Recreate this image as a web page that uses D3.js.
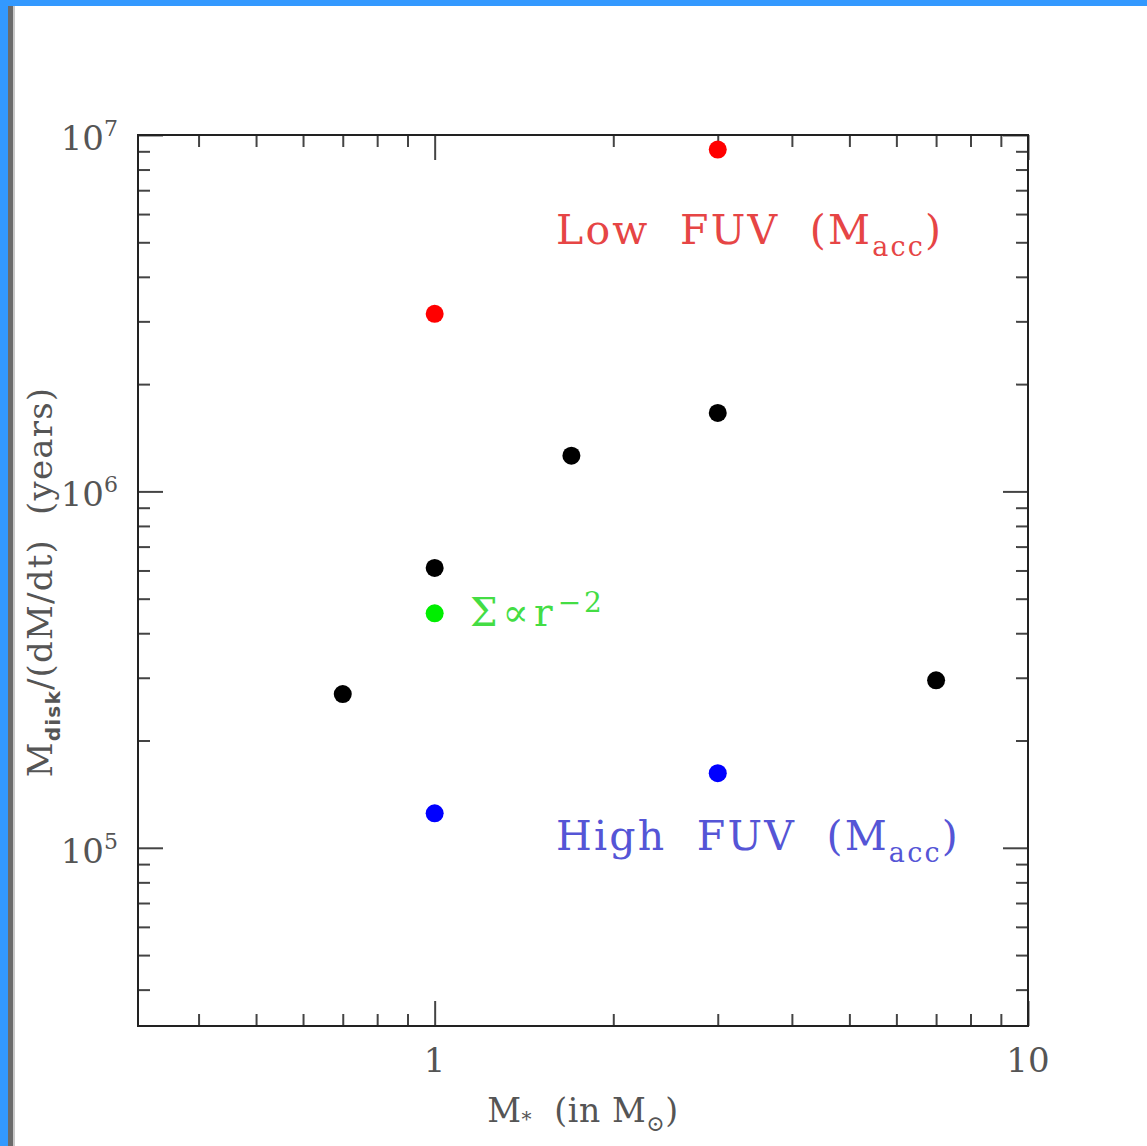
<!DOCTYPE html>
<html>
<head>
<meta charset="utf-8">
<script src="https://cdn.jsdelivr.net/npm/d3@7"></script>
<style>
  html, body { margin: 0; padding: 0; background: #fff; }
  svg { display: block; }
  text { font-family: "DejaVu Serif", "Liberation Serif", serif; }
</style>
</head>
<body>
<svg id="chart" width="1147" height="1146"></svg>
<script>
// Stellar mass (solar masses) and disk lifetime M_disk/(dM/dt) (years)
const baseMass = [0.7, 1, 1.7, 3, 7];
const baseTime = [2.7e5, 6.1e5, 1.26e6, 1.66e6, 2.95e5];

const lowFuvMass = [1, 3];
const lowFuvTime = [3.15e6, 9.1e6];

const highFuvMass = [1, 3];
const highFuvTime = [1.25e5, 1.62e5];

const steepMass = [1];
const steepTime = [4.55e5];

// Axis ticks
const xMajor = [1, 10];
const xMinor = [0.4, 0.5, 0.6, 0.7, 0.8, 0.9, 2, 3, 4, 5, 6, 7, 8, 9];
const yMajor = [1e5, 1e6, 1e7];
const yMinor = [4e4, 5e4, 6e4, 7e4, 8e4, 9e4,
                2e5, 3e5, 4e5, 5e5, 6e5, 7e5, 8e5, 9e5,
                2e6, 3e6, 4e6, 5e6, 6e6, 7e6, 8e6, 9e6];

const svg = d3.select("#chart");
const W = 1147, H = 1146;
const pLeft = 138, pRight = 1028, pTop = 135, pBottom = 1026;

// Window frame
svg.append("rect").attr("x", 0).attr("y", 0).attr("width", W).attr("height", 6).attr("fill", "#3399ff");
svg.append("rect").attr("x", 0).attr("y", 0).attr("width", 8).attr("height", H).attr("fill", "#3399ff");
svg.append("rect").attr("x", 8).attr("y", 6).attr("width", 5).attr("height", H - 6).attr("fill", "#6b6b6b");
svg.append("rect").attr("x", 13).attr("y", 6).attr("width", 2).attr("height", H - 6).attr("fill", "#c8c8c8");

const x = d3.scaleLog().domain([Math.pow(10, -0.5), 10]).range([pLeft, pRight]);
const y = d3.scaleLog().domain([Math.pow(10, 4.5), 1e7]).range([pBottom, pTop]);

const majorLen = 25, minorLen = 12;

function tickAxis(axisFn, scale, values, len, transform) {
  const g = svg.append("g").attr("transform", transform)
    .call(axisFn(scale).tickValues(values).tickSize(-len).tickFormat(""));
  g.select(".domain").remove();
  g.selectAll(".tick line").attr("stroke", "#444").attr("stroke-width", 2);
  return g;
}

// Inward ticks on all four sides
tickAxis(d3.axisBottom, x, xMajor, majorLen, `translate(0,${pBottom})`);
tickAxis(d3.axisBottom, x, xMinor, minorLen, `translate(0,${pBottom})`);
tickAxis(d3.axisTop, x, xMajor, majorLen, `translate(0,${pTop})`);
tickAxis(d3.axisTop, x, xMinor, minorLen, `translate(0,${pTop})`);
tickAxis(d3.axisLeft, y, yMajor, majorLen, `translate(${pLeft},0)`);
tickAxis(d3.axisLeft, y, yMinor, minorLen, `translate(${pLeft},0)`);
tickAxis(d3.axisRight, y, yMajor, majorLen, `translate(${pRight},0)`);
tickAxis(d3.axisRight, y, yMinor, minorLen, `translate(${pRight},0)`);

// Frame
svg.append("rect")
  .attr("x", pLeft).attr("y", pTop)
  .attr("width", pRight - pLeft).attr("height", pBottom - pTop)
  .attr("fill", "none").attr("stroke", "#222").attr("stroke-width", 2);

// X tick labels
svg.selectAll(".xlab").data(xMajor).enter().append("text")
  .attr("class", "xlab")
  .attr("x", d => x(d)).attr("y", 1072)
  .attr("text-anchor", "middle")
  .attr("font-size", 34).attr("fill", "#555")
  .text(d => d3.format("d")(d));

// Y tick labels as powers of ten
yMajor.forEach(v => {
  const t = svg.append("text")
    .attr("x", 118).attr("y", y(v) + 15)
    .attr("text-anchor", "end")
    .attr("font-size", 34).attr("fill", "#555");
  t.append("tspan").text("10");
  t.append("tspan").attr("dy", -14).attr("font-size", 22).text(Math.round(Math.log10(v)));
});

// X axis title: M* (in M⊙)
const xt = svg.append("text")
  .attr("x", 583).attr("y", 1122)
  .attr("text-anchor", "middle")
  .attr("font-size", 33).attr("fill", "#555")
  .attr("letter-spacing", 0.6)
  .attr("xml:space", "preserve");
xt.append("tspan").text("M");
xt.append("tspan").attr("font-size", 20).attr("dy", 4).text("*");
xt.append("tspan").attr("dy", -4).text("  (in M");
xt.append("tspan").attr("font-size", 22).attr("dy", 9).text("\u2299");
xt.append("tspan").attr("dy", -9).text(")");

// Y axis title: M_disk/(dM/dt) (years)
const yt = svg.append("text")
  .attr("transform", `translate(52,${582}) rotate(-90)`)
  .attr("text-anchor", "middle")
  .attr("font-size", 34).attr("fill", "#555")
  .attr("letter-spacing", 1.2)
  .attr("xml:space", "preserve");
yt.append("tspan").text("M");
yt.append("tspan").attr("font-size", 20).attr("font-weight", "bold")
  .attr("font-family", "'DejaVu Sans', sans-serif").attr("dy", 8).text("disk");
yt.append("tspan").attr("dy", -8).text("/(dM/dt)  (years)");

// Points
function dots(xs, ys, color) {
  svg.append("g").selectAll("circle")
    .data(xs.map((d, i) => [d, ys[i]]))
    .enter().append("circle")
    .attr("cx", d => x(d[0])).attr("cy", d => y(d[1]))
    .attr("r", 9).attr("fill", color);
}
dots(baseMass, baseTime, "#000");
dots(lowFuvMass, lowFuvTime, "#ff0000");
dots(highFuvMass, highFuvTime, "#0000ff");
dots(steepMass, steepTime, "#00ee00");

// Annotations
function accLabel(word, px, py, color) {
  const t = svg.append("text")
    .attr("x", px).attr("y", py)
    .attr("font-size", 41).attr("fill", color)
    .attr("letter-spacing", 2.2)
    .attr("xml:space", "preserve");
  t.append("tspan").text(word + "  FUV  (M");
  t.append("tspan").attr("font-size", 27).attr("dy", 12).text("acc");
  t.append("tspan").attr("dy", -12).text(")");
}
accLabel("Low", 556, 244, "#e64545");
accLabel("High", 556, 850, "#5555d6");

const st = svg.append("text")
  .attr("x", 470).attr("y", 626)
  .attr("font-size", 39).attr("fill", "#44dd44")
  .attr("letter-spacing", 5);
st.append("tspan").text("\u03A3\u221Dr");
st.append("tspan").attr("dy", -14).attr("font-size", 28).attr("letter-spacing", 3).text("\u22122");
</script>
</body>
</html>
